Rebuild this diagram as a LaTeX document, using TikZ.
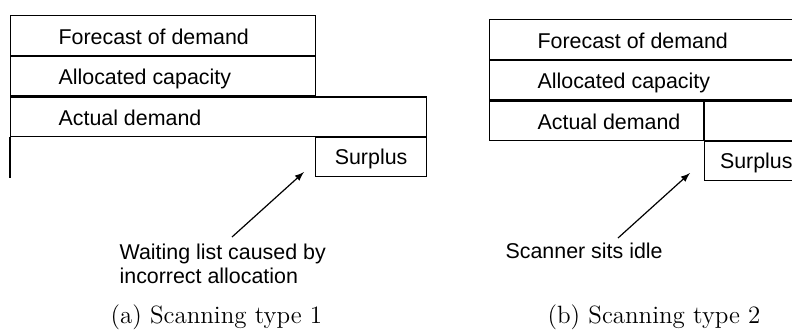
\documentclass[tikz,border=0pt]{standalone}
\usepackage{fontspec}
\usepackage{tikz}
\usetikzlibrary{calc,positioning,arrows.meta,arrows}
\newfontfamily\arialfont{Liberation Sans}
\tikzset{
rowbox/.style={
  draw,
  rectangle,
  anchor=north west,
  inner sep=0pt,
  minimum height=19.75pt
  },
rowtext/.style={
  anchor=west,
  inner sep=0pt,
  text height=10pt,
  text depth=1.2pt,
  font=\arialfont\fontsize{10.7}{12}\selectfont
  },
cellbox/.style={
  rowbox,
  text height=9pt,
  text depth=1.8pt,
  font=\arialfont\fontsize{10.7}{12}\selectfont
  },
note/.style={
  inner sep=0pt,
  align=left,
  font=\arialfont\fontsize{10.7}{12}\selectfont
  },
subcap/.style={
  anchor=base west,
  inner sep=0pt,
  font=\fontsize{12.5}{15}\selectfont
  }
}
\begin{document}
\begin{tikzpicture}[>=latex,x=0.5pt,y=-0.5pt,line width=0.6pt]
            \clip (0,0) rectangle (792,329);
            % (a) scanning type 1
            \node[rowbox,minimum width=152.5pt] (fcA) at (10,15) {};
            \node[rowbox,minimum width=152.5pt] (alA) at (fcA.south west) {};
            \node[rowbox,minimum width=208pt] (acA) at (alA.south west) {};
            \node[rowtext] (fcAt) at ([xshift=24pt]fcA.west) {Forecast of demand};
            \node[rowtext] (alAt) at ([xshift=24pt]alA.west) {Allocated capacity};
            \node[rowtext] (acAt) at ([xshift=24pt]acA.west) {Actual demand};
            \node[cellbox,anchor=north east,minimum width=55.5pt,minimum height=19.5pt] (spA) at (acA.south east) {Surplus};
            \draw (acA.south west) -- ++(0,41);
            \node[note,anchor=north west] (waitA) at (119,243.5) {Waiting list caused by\\incorrect allocation};
            \coordinate (waitAp) at (232,237);
            \coordinate (spAp) at (304,172);
            \draw[->] (waitAp) -- (spAp);
            \node[subcap] (capA) at (110,323) {(a) Scanning type 1};
            % (b) scanning type 2
            \node[rowbox,minimum width=158.5pt] (fcB) at (489,19) {};
            \node[rowbox,minimum width=158.5pt] (alB) at (fcB.south west) {};
            \node[rowbox,minimum width=107pt] (acB) at (alB.south west) {};
            \node[rowtext] (fcBt) at ([xshift=24pt]fcB.west) {Forecast of demand};
            \node[rowtext] (alBt) at ([xshift=24pt]alB.west) {Allocated capacity};
            \node[rowtext] (acBt) at ([xshift=24pt]acB.west) {Actual demand};
            \node[rowbox,minimum width=51.5pt] (gapB) at (acB.north east) {};
            \node[cellbox,minimum width=51.5pt,minimum height=19.5pt] (spB) at (gapB.south west) {Surplus};
            \node[note,anchor=base west] (idleB) at (505,258) {Scanner sits idle};
            \coordinate (idleBp) at (618,238);
            \coordinate (spBp) at (690,173);
            \draw[->] (idleBp) -- (spBp);
            \node[subcap] (capB) at (547,323) {(b) Scanning type 2};
        \end{tikzpicture}
\end{document}
